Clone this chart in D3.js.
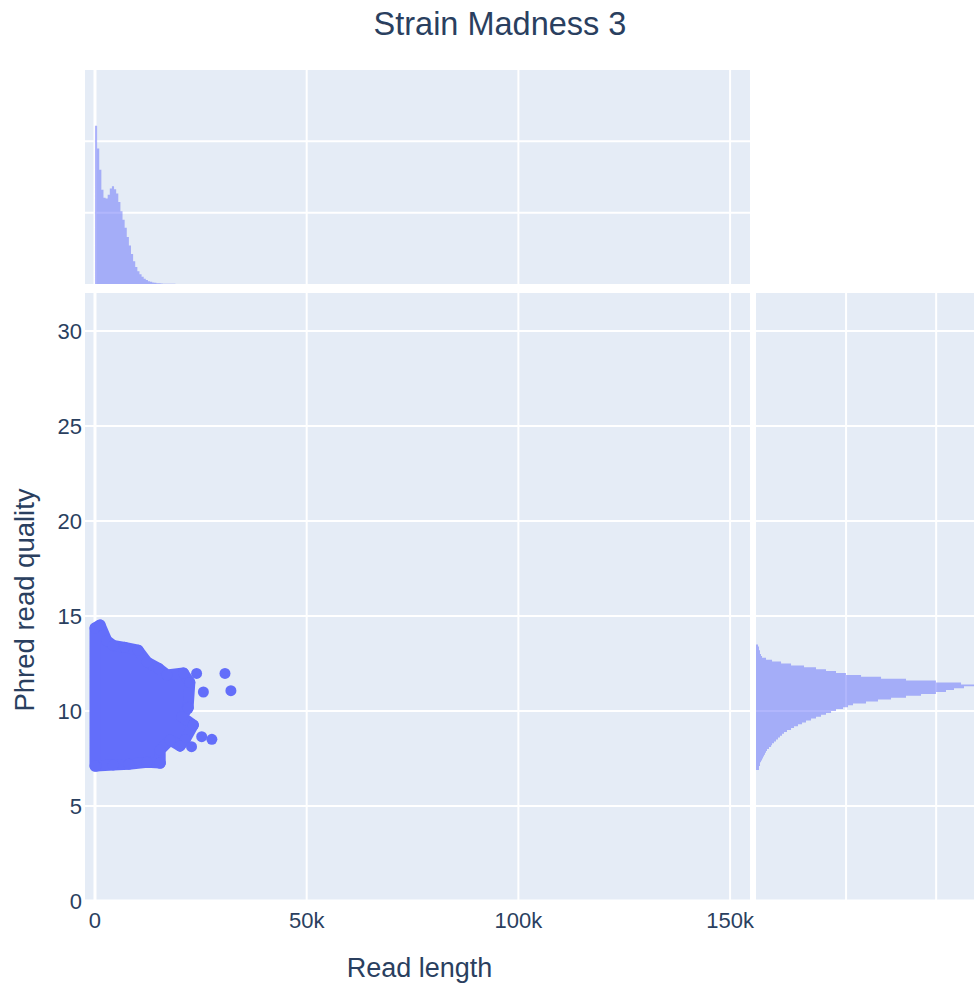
<!DOCTYPE html>
<html>
<head>
<meta charset="utf-8">
<script src="https://cdn.jsdelivr.net/npm/d3@7"></script>
<style>
  body { margin: 0; background: #fff; }
  text { font-family: "Liberation Sans", Arial, sans-serif; fill: #2a3f5f; }
</style>
</head>
<body>
<div class="chart"></div>
<script>
// read length histogram (top margin), bins of 500 starting at 0
const lengthBinWidth = 500;
const lengthCounts = [2220, 1900, 1600, 1320, 1210, 1200, 1250, 1340, 1370, 1330,
  1270, 1150, 1020, 900, 790, 660, 540, 420, 320, 240,
  180, 135, 100, 75, 55, 40, 30, 22, 16, 12,
  9, 7, 5, 4, 3, 3, 2, 2, 1, 1,
  1, 1, 1, 1, 1, 1, 1, 0, 1, 0];

// phred quality histogram (right margin), bins of 0.1 starting at 6.9
const qualityBinStart = 6.9;
const qualityBinWidth = 0.1;
const qualityCounts = [22, 33, 33, 44, 44, 55, 67, 78, 89, 100,
  111, 122, 144, 167, 178, 200, 222, 244, 266, 289,
  311, 344, 389, 422, 466, 511, 555, 611, 666, 722,
  777, 833, 888, 966, 1021, 1077, 1221, 1354, 1499, 1665,
  1832, 1998, 2109, 2198, 2309, 2420, 2276, 1998, 1665, 1388,
  1166, 999, 888, 777, 666, 533, 389, 278, 178, 111,
  67, 55, 44, 44, 33, 33, 22];

// outline of the dense read cloud (read length, quality)
const cloudLength = [0, 1200, 2800, 4300, 7000, 10200, 12300, 15000, 17000, 20900, 22400, 22000,
  20500, 23200, 21300, 20100, 17700, 15400, 15400, 12300, 8000, 4300, 300, 0];
const cloudQuality = [14.37, 14.53, 13.7, 13.45, 13.35, 13.2, 12.58, 12.25, 11.9, 12.0, 11.5, 10.2,
  9.7, 9.26, 8.5, 8.16, 8.47, 7.95, 7.26, 7.3, 7.2, 7.16, 7.1, 7.1];

// isolated reads outside the cloud
const outlierLength = [24000, 30700, 32100, 25600, 22000, 23200, 25200, 27600, 22800, 20100, 15400];
const outlierQuality = [11.98, 11.98, 11.07, 11.0, 10.14, 9.26, 8.65, 8.51, 8.12, 8.16, 7.26];

const xTicks = [0, 50000, 100000, 150000];
const xTickLabels = ["0", "50k", "100k", "150k"];
const yTicks = [0, 5, 10, 15, 20, 25, 30];
const lengthHistTicks = [1000, 2000];
const qualityHistTicks = [1000, 2000];

const width = 974, height = 987;
const bg = "#e5ecf6", blue = "#636efa";
const r = 5.5;

const main = {left: 85, right: 750, top: 293, bottom: 901};
const topH = {top: 70, bottom: 284};
const rightH = {left: 756, right: 974};

const x = d3.scaleLinear().domain([-2360, 154700]).range([main.left, main.right]);
const y = d3.scaleLinear().domain([0, 32]).range([main.bottom, main.top]);
const yTop = d3.scaleLinear().domain([0, 3000]).range([topH.bottom, topH.top]);
const xRight = d3.scaleLinear().domain([0, 2420]).range([rightH.left, rightH.right]);

const svg = d3.select(".chart").append("svg")
  .attr("width", width)
  .attr("height", height);

const defs = svg.append("defs");
function clip(id, x0, y0, w, h) {
  defs.append("clipPath").attr("id", id)
    .append("rect").attr("x", x0).attr("y", y0).attr("width", w).attr("height", h);
}
clip("clipMain", main.left, main.top, main.right - main.left, main.bottom - main.top);
clip("clipTop", main.left, topH.top, main.right - main.left, topH.bottom - topH.top);
clip("clipRight", rightH.left, main.top, rightH.right - rightH.left, main.bottom - main.top);

// backgrounds
svg.append("rect").attr("x", main.left).attr("y", main.top)
  .attr("width", main.right - main.left).attr("height", main.bottom - main.top).attr("fill", bg);
svg.append("rect").attr("x", main.left).attr("y", topH.top)
  .attr("width", main.right - main.left).attr("height", topH.bottom - topH.top).attr("fill", bg);
svg.append("rect").attr("x", rightH.left).attr("y", main.top)
  .attr("width", rightH.right - rightH.left).attr("height", main.bottom - main.top).attr("fill", bg);

// grid: main
const gMain = svg.append("g").attr("clip-path", "url(#clipMain)");
gMain.selectAll(".vx").data(xTicks).enter().append("line")
  .attr("x1", d => x(d)).attr("x2", d => x(d))
  .attr("y1", main.top).attr("y2", main.bottom)
  .attr("stroke", "#fff").attr("stroke-width", d => d === 0 ? 3 : 2);
gMain.selectAll(".hy").data(yTicks).enter().append("line")
  .attr("x1", main.left).attr("x2", main.right)
  .attr("y1", d => y(d)).attr("y2", d => y(d))
  .attr("stroke", "#fff").attr("stroke-width", d => d === 0 ? 3 : 2);

// grid: top histogram
const gTop = svg.append("g").attr("clip-path", "url(#clipTop)");
gTop.selectAll(".vx").data(xTicks).enter().append("line")
  .attr("x1", d => x(d)).attr("x2", d => x(d))
  .attr("y1", topH.top).attr("y2", topH.bottom)
  .attr("stroke", "#fff").attr("stroke-width", d => d === 0 ? 3 : 2);
gTop.selectAll(".hy").data(lengthHistTicks).enter().append("line")
  .attr("x1", main.left).attr("x2", main.right)
  .attr("y1", d => yTop(d)).attr("y2", d => yTop(d))
  .attr("stroke", "#fff").attr("stroke-width", 2);

// grid: right histogram
const gRight = svg.append("g").attr("clip-path", "url(#clipRight)");
gRight.selectAll(".hy").data(yTicks).enter().append("line")
  .attr("x1", rightH.left).attr("x2", rightH.right)
  .attr("y1", d => y(d)).attr("y2", d => y(d))
  .attr("stroke", "#fff").attr("stroke-width", d => d === 0 ? 3 : 2);
gRight.selectAll(".vx").data(qualityHistTicks).enter().append("line")
  .attr("x1", d => xRight(d)).attr("x2", d => xRight(d))
  .attr("y1", main.top).attr("y2", main.bottom)
  .attr("stroke", "#fff").attr("stroke-width", 2);

// top histogram: bars drawn as one stepped outline so no seams show
const lengthSteps = lengthCounts.map((c, i) => [i * lengthBinWidth, c]);
lengthSteps.push([lengthCounts.length * lengthBinWidth, 0]);
gTop.append("path")
  .datum(lengthSteps)
  .attr("d", d3.area()
    .x(d => x(d[0]))
    .y0(yTop(0))
    .y1(d => yTop(d[1]))
    .curve(d3.curveStepAfter))
  .attr("fill", blue).attr("fill-opacity", 0.5);

// right histogram, horizontal bars
const qualitySteps = qualityCounts.map((c, i) => [qualityBinStart + i * qualityBinWidth, c]);
qualitySteps.push([qualityBinStart + qualityCounts.length * qualityBinWidth, 0]);
gRight.append("path")
  .datum(qualitySteps)
  .attr("d", d3.area()
    .y(d => y(d[0]))
    .x0(xRight(0))
    .x1(d => xRight(d[1]))
    .curve(d3.curveStepAfter))
  .attr("fill", blue).attr("fill-opacity", 0.5);

// scatter: dense cloud
const cloud = cloudLength.map((d, i) => [d, cloudQuality[i]]);
const line = d3.line().x(d => x(d[0])).y(d => y(d[1])).curve(d3.curveLinearClosed);
gMain.append("path")
  .attr("d", line(cloud))
  .attr("fill", blue).attr("stroke", blue)
  .attr("stroke-width", 2 * r).attr("stroke-linejoin", "round");
gMain.selectAll(".edge").data(cloud).enter().append("circle")
  .attr("cx", d => x(d[0])).attr("cy", d => y(d[1])).attr("r", r)
  .attr("fill", blue);

const outliers = outlierLength.map((d, i) => [d, outlierQuality[i]]);
gMain.selectAll(".out").data(outliers).enter().append("circle")
  .attr("cx", d => x(d[0])).attr("cy", d => y(d[1])).attr("r", r)
  .attr("fill", blue);

// tick labels
svg.selectAll(".xt").data(xTicks).enter().append("text")
  .attr("x", d => x(d)).attr("y", 928)
  .attr("text-anchor", "middle").attr("font-size", 22)
  .text((d, i) => xTickLabels[i]);
svg.selectAll(".yt").data(yTicks).enter().append("text")
  .attr("x", 82).attr("y", d => y(d) + 8)
  .attr("text-anchor", "end").attr("font-size", 22)
  .text(d => d);

// titles
svg.append("text").attr("x", 500).attr("y", 35)
  .attr("text-anchor", "middle").attr("font-size", 32.5)
  .text("Strain Madness 3");
svg.append("text").attr("x", (main.left + main.right) / 2 + 2).attr("y", 977)
  .attr("text-anchor", "middle").attr("font-size", 27)
  .text("Read length");
svg.append("text")
  .attr("transform", "translate(34," + ((main.top + main.bottom) / 2 + 3) + ") rotate(-90)")
  .attr("text-anchor", "middle").attr("font-size", 27.5)
  .text("Phred read quality");
</script>
</body>
</html>
